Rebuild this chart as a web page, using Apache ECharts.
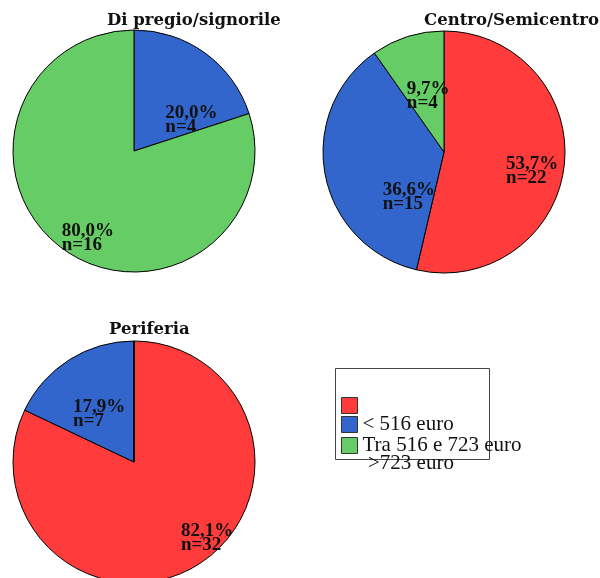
<!DOCTYPE html>
<html>
<head>
<meta charset="utf-8">
<script src="https://cdn.jsdelivr.net/npm/echarts@6/dist/echarts.min.js"></script>
<style>
  html, body { margin: 0; padding: 0; background: #fff; }
  #main { width: 600px; height: 578px; }
</style>
</head>
<body>
<div id="main"></div>
<script>
// categories (red, blue, green) and counts per zone
const categories = ['< 516 euro', 'Tra 516 e 723 euro', '>723 euro'];
const colors = ['#ff3b3b', '#3366cc', '#66cc66'];
const pregioCounts = [0, 4, 16];
const centroCounts = [22, 15, 4];
const periferiaCounts = [32, 7, 0];
// legend text as it appears, shifted one row
const legendText = ['', '< 516 euro', 'Tra 516 e 723 euro'];
const legendExtra = '>723 euro';

// label nudges, SPSS does not put them at mid slice
const pregioOffsets = [[0, 0], [21, 20], [-8, 36]];
const centroOffsets = [[26, 12], [28, 33], [9, 5]];
const periferiaOffsets = [[40, 22], [0, 6], [0, 0]];

const serif = 'Liberation Serif';
const titleStyle = { fontFamily: 'DejaVu Serif', fontWeight: 'bold', fontSize: 16.5, color: '#111' };

function makePie(counts, offsets, center) {
  return {
    type: 'pie',
    center: center,
    radius: 121,
    startAngle: 90,
    clockwise: true,
    percentPrecision: 1,
    avoidLabelOverlap: false,
    silent: true,
    itemStyle: { borderColor: '#000', borderWidth: 1 },
    label: {
      position: 'inside',
      fontFamily: serif,
      fontWeight: 'bold',
      fontSize: 19,
      lineHeight: 14,
      color: '#111',
      formatter: function (p) {
        const pct = p.percent.toFixed(1).replace('.', ',') + '%';
        return '{a|' + pct + '}\n{a|n=' + p.value + '}';
      },
      rich: {
        a: { width: 54, align: 'left', fontFamily: serif, fontWeight: 'bold', fontSize: 19, lineHeight: 14, color: '#111' }
      }
    },
    labelLine: { show: false },
    data: counts.map(function (v, i) {
      return {
        name: categories[i],
        value: v,
        itemStyle: { color: colors[i] },
        label: { show: v > 0, offset: offsets[i] }
      };
    })
  };
}

const chart = echarts.init(document.getElementById('main'));

chart.setOption({
  animation: false,
  title: [
    { text: 'Di pregio/signorile', left: 107, top: 12, padding: 0, textStyle: titleStyle },
    { text: 'Centro/Semicentro', left: 424, top: 12, padding: 0, textStyle: titleStyle },
    { text: 'Periferia', left: 109, top: 321, padding: 0, textStyle: titleStyle }
  ],
  legend: {
    orient: 'vertical',
    left: 341,
    top: 397,
    padding: 0,
    itemWidth: 16,
    itemHeight: 16,
    itemGap: 0,
    icon: 'rect',
    selectedMode: false,
    data: categories,
    itemStyle: { borderColor: '#333', borderWidth: 1 },
    textStyle: { fontFamily: serif, fontSize: 21, lineHeight: 19.5, color: '#111' },
    formatter: function (name) {
      return legendText[categories.indexOf(name)];
    }
  },
  graphic: [
    { type: 'rect', left: 333, top: 366, shape: { width: 154, height: 91 },
      style: { fill: 'none', stroke: '#444', lineWidth: 1 } },
    { type: 'text', left: 368, top: 453,
      style: { text: legendExtra, font: '21px "Liberation Serif"', fill: '#111' } }
  ],
  series: [
    makePie(pregioCounts, pregioOffsets, [134, 151]),
    makePie(centroCounts, centroOffsets, [444, 152]),
    makePie(periferiaCounts, periferiaOffsets, [134, 462])
  ]
});
</script>
</body>
</html>
